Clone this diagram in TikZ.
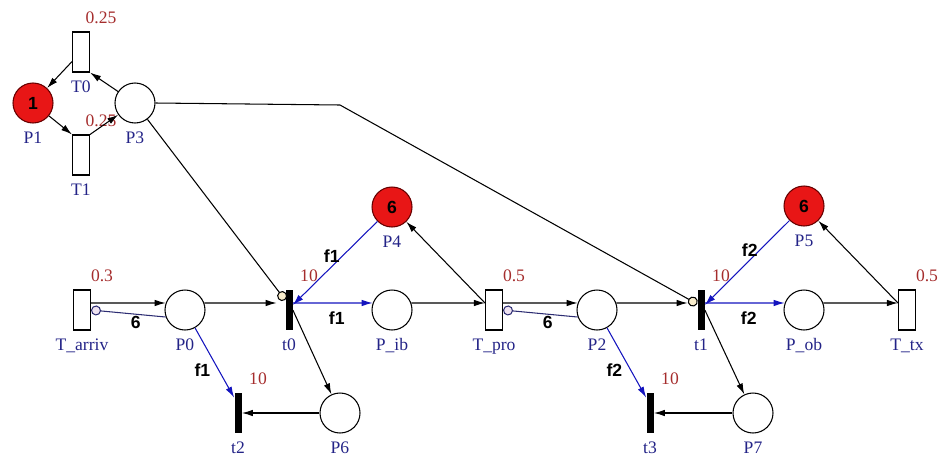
\documentclass[tikz,border=0pt]{standalone}
\usepackage{fontspec}
\setmainfont{Liberation Serif}
\setsansfont{Liberation Sans}
\usetikzlibrary{arrows.meta}
\definecolor{tokred}{RGB}{232,22,22}
\definecolor{nameblue}{RGB}{35,35,135}
\definecolor{delayred}{RGB}{165,45,45}
\definecolor{arcblue}{RGB}{20,20,190}
\definecolor{inhblue}{RGB}{45,45,115}
\definecolor{inhfill}{RGB}{238,226,240}
\definecolor{testfill}{RGB}{250,238,205}
\begin{document}
\begin{tikzpicture}[x=0.2mm, y=-0.2mm, font=\fontsize{10}{12}\selectfont, label distance=1.2mm,
  place/.style={circle, draw, line width=0.6pt, minimum size=8mm, inner sep=0pt},
  marked/.style={place, fill=tokred, draw=red!40!black, font=\sffamily\bfseries\fontsize{10}{12}\selectfont},
  timed/.style={rectangle, draw, line width=0.6pt, minimum width=3.4mm, minimum height=8mm, inner sep=0pt},
  immed/.style={rectangle, fill=black, minimum width=1.4mm, minimum height=8mm, inner sep=0pt},
  nm/.style={text=nameblue, inner sep=1pt},
  dl/.style={text=delayred, inner sep=1pt, xshift=4mm},
  wt/.style={text=black, font=\sffamily\bfseries\fontsize{10}{12}\selectfont, inner sep=1pt},
  arc/.style={line width=0.6pt, -{Latex[length=2.2mm,width=1.3mm]}},
  barc/.style={arc, color=arcblue},
  inh/.style={line width=0.6pt, color=inhblue, -{Circle[length=2mm,fill=inhfill]}},
  tst/.style={line width=0.6pt, -{Circle[length=2mm,fill=testfill]}}]
\useasboundingbox (0,0) rectangle (940,455);
% places
\node[marked, label={[nm]below:P1}] (P1) at (33,103) {1};
\node[place, label={[nm]below:P3}] (P3) at (135,103) {};
\node[place, label={[nm]below:P0}] (P0) at (185,310) {};
\node[place, label={[nm]below:P\_ib}] (Pib) at (392,310) {};
\node[marked, label={[nm]below:P4}] (P4) at (392,207) {6};
\node[place, label={[nm]below:P2}] (P2) at (597,310) {};
\node[marked, label={[nm]below:P5}] (P5) at (804,206) {6};
\node[place, label={[nm]below:P\_ob}] (Pob) at (804,310) {};
\node[place, label={[nm]below:P6}] (P6) at (340,413) {};
\node[place, label={[nm]below:P7}] (P7) at (753,413) {};
% transitions
\node[timed, label={[nm]below:T0}, label={[dl]above:0.25}] (T0) at (81,52) {};
\node[timed, label={[nm]below:T1}, label={[dl]above:0.25}] (T1) at (81,155) {};
\node[timed, label={[nm]below:T\_arriv}, label={[dl]above:0.3}] (Tarriv) at (82,310) {};
\node[timed, label={[nm]below:T\_pro}, label={[dl]above:0.5}] (Tpro) at (494,310) {};
\node[timed, label={[nm]below:T\_tx}, label={[dl]above:0.5}] (Ttx) at (907,310) {};
\node[immed, label={[nm]below:t0}, label={[dl]above:10}] (t0) at (289,310) {};
\node[immed, label={[nm]below:t1}, label={[dl]above:10}] (t1) at (701,310) {};
\node[immed, label={[nm]below:t2}, label={[dl]above:10}] (t2) at (238,413) {};
\node[immed, label={[nm]below:t3}, label={[dl]above:10}] (t3) at (650,413) {};
\coordinate (bend) at (340,105);
% arcs
\draw[arc] (T0) -- (P1);
\draw[arc] (P1) -- (T1.north west);
\draw[arc] (P3) -- (T0.south east);
\draw[arc] (T1.north east) -- (P3);
\draw[tst] (P3) -- ([yshift=2mm]t0.west);
\draw[tst] (P3.east) -- (bend) -- ([yshift=1.2mm]t1.west);
\draw[arc] ([yshift=1.4mm]Tarriv.east) -- (P0.160);
\draw[inh] (P0.200) -- node[wt, pos=0.4, below]{6} (Tarriv.east);
\draw[arc] (P0.20) -- ([xshift=-1.7mm,yshift=1.4mm]t0.west);
\draw[barc] (P0) -- node[wt, pos=0.6, left=1.2mm]{f1} ([yshift=-1mm]t2.north west);
\draw[barc] (P4) -- node[wt, pos=0.42, left]{f1} ([yshift=1mm]t0.east);
\draw[barc] ([yshift=1.4mm]t0.east) -- node[wt, pos=0.55, below=1.3mm]{f1} (Pib.160);
\draw[arc] (t0.east) -- (P6);
\draw[arc] (P6.west) -- (t2.east);
\draw[arc] (Pib.20) -- ([yshift=1.4mm]Tpro.west);
\draw[arc] ([yshift=1.4mm]Tpro.west) -- (P4);
\draw[arc] ([yshift=1.4mm]Tpro.east) -- (P2.160);
\draw[inh] (P2.200) -- node[wt, pos=0.4, below]{6} (Tpro.east);
\draw[arc] (P2.20) -- ([xshift=-1.9mm,yshift=1.4mm]t1.west);
\draw[barc] (P2) -- node[wt, pos=0.6, left=1.2mm]{f2} ([yshift=-1mm]t3.north west);
\draw[barc] (P5) -- node[wt, pos=0.35, left]{f2} ([yshift=1mm]t1.east);
\draw[barc] ([yshift=1.4mm]t1.east) -- node[wt, pos=0.55, below=1.3mm]{f2} (Pob.160);
\draw[arc] (t1.east) -- (P7);
\draw[arc] (P7.west) -- (t3.east);
\draw[arc] (Pob.20) -- ([yshift=1.4mm]Ttx.west);
\draw[arc] ([yshift=1.4mm]Ttx.west) -- (P5);
\end{tikzpicture}
\end{document}
